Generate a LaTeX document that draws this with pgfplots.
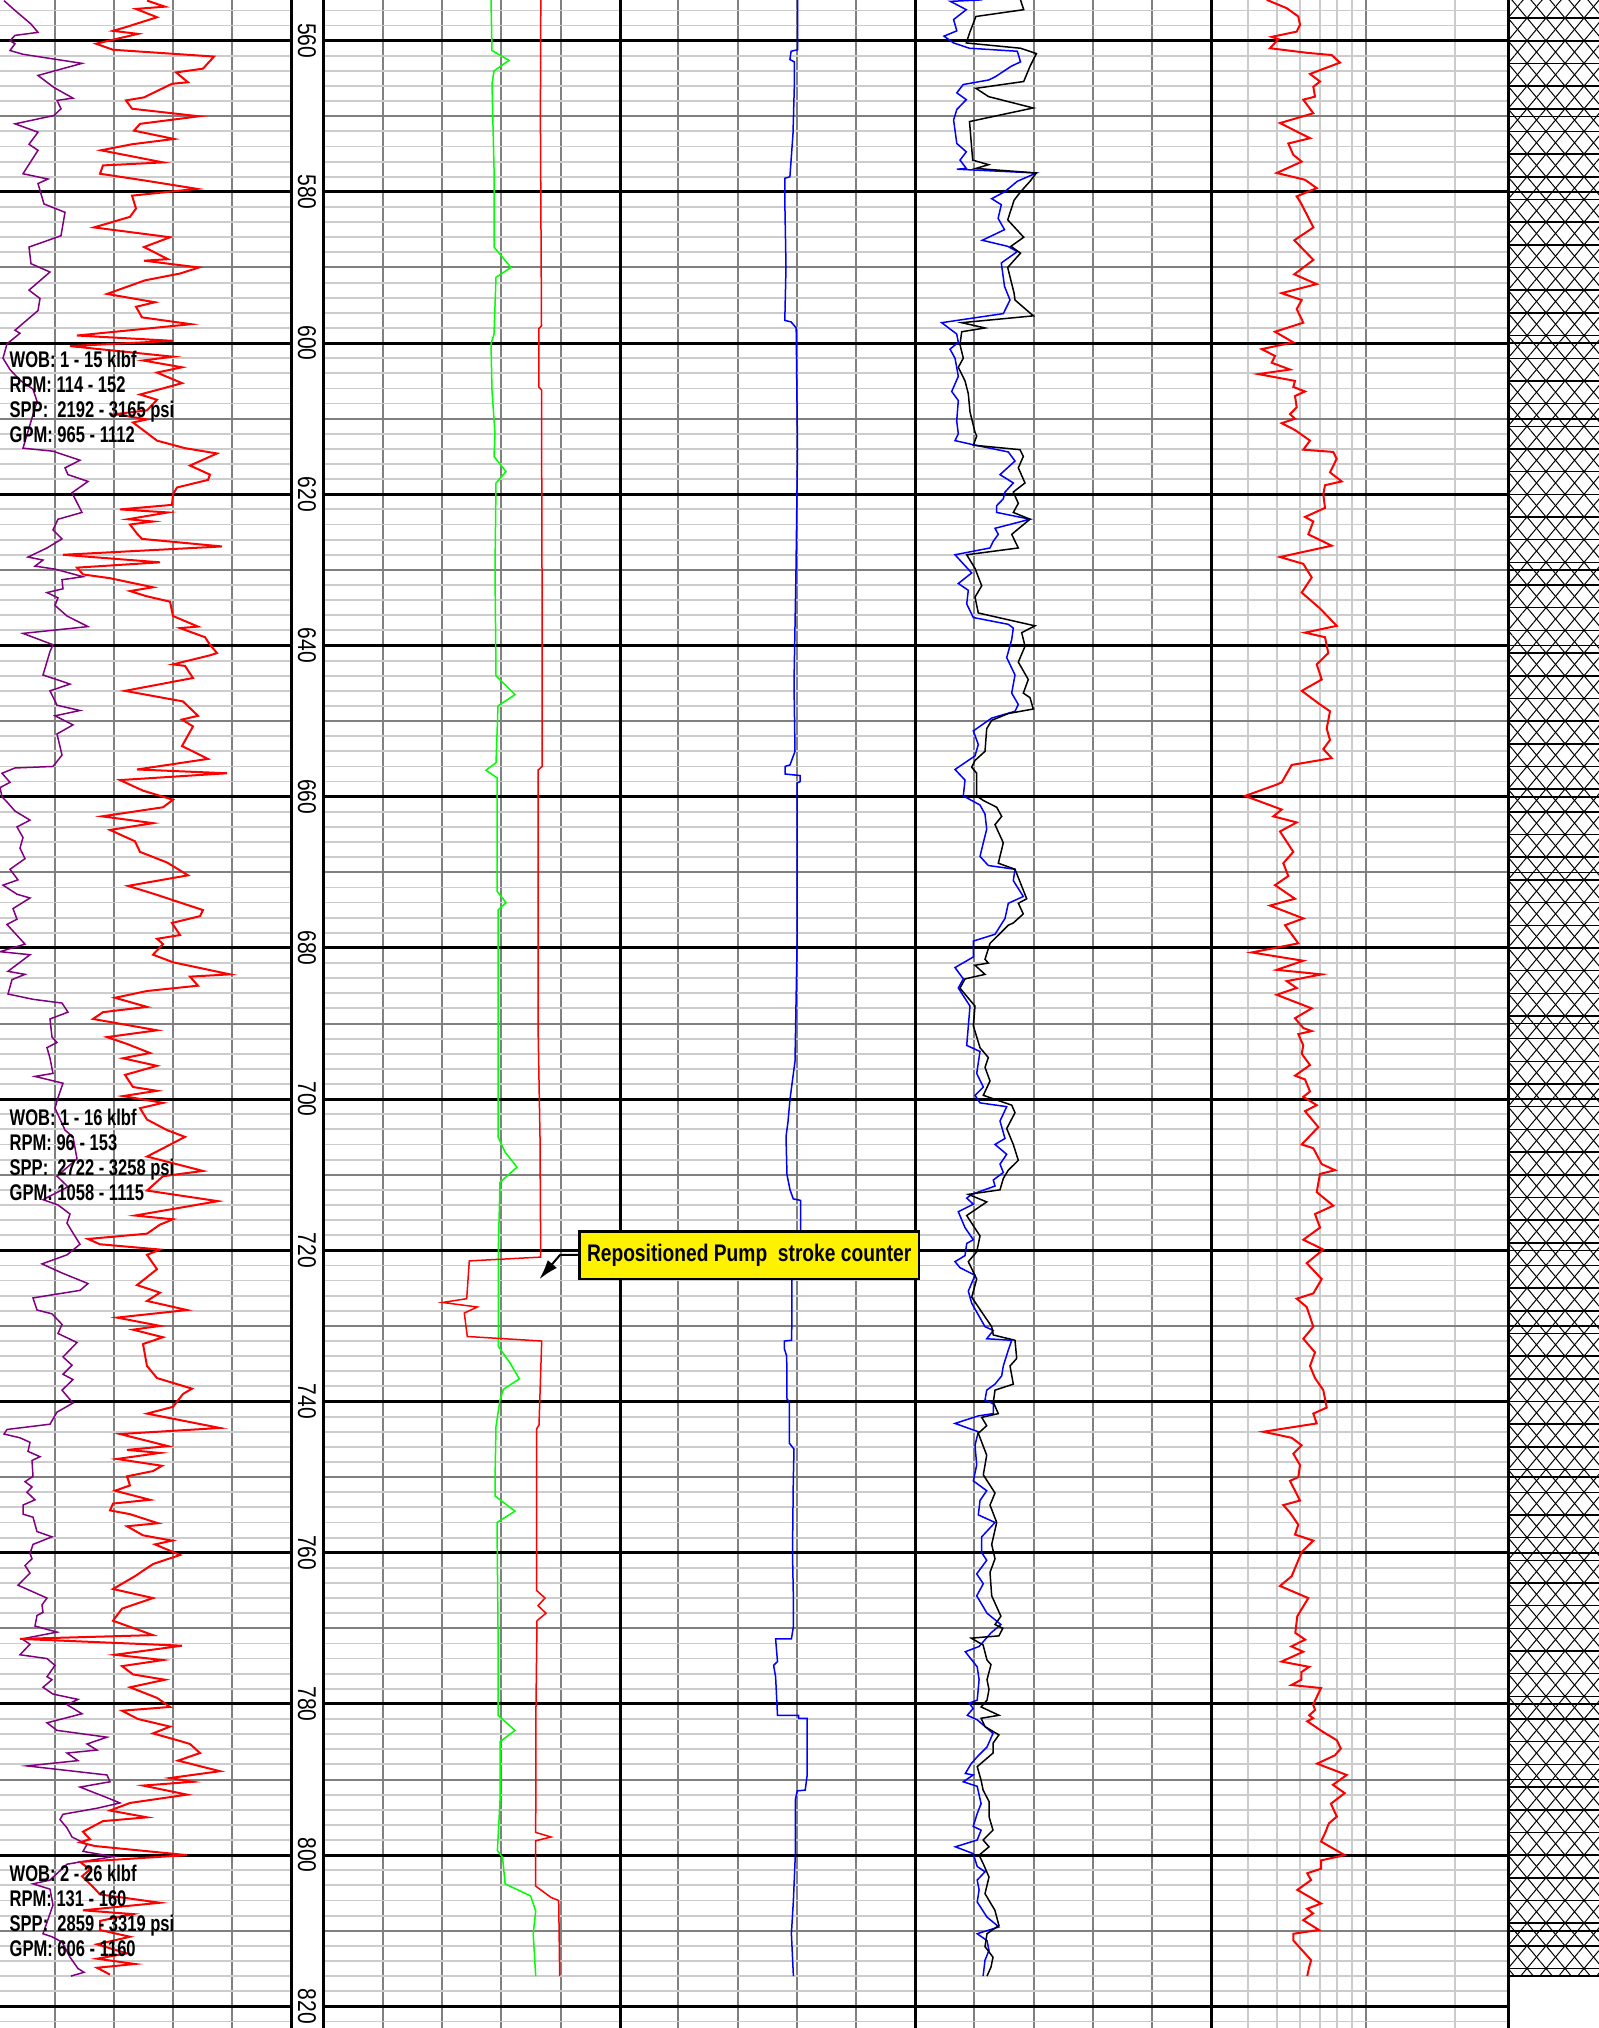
\documentclass[border=0pt]{standalone}
\usepackage{fontspec}
\setmainfont{Liberation Sans}
\newfontfamily\depthfont{Liberation Sans}[FakeStretch=0.82]
\newfontfamily\infofont{Liberation Sans}[FakeStretch=0.73]
\newfontfamily\calloutfont{Liberation Sans}[FakeStretch=0.80]
\usepackage{pgfplots}
\pgfplotsset{compat=1.18}
\usetikzlibrary{arrows.meta,patterns.meta}

\definecolor{gmid}{gray}{0.5}
\definecolor{glight}{gray}{0.8}
\definecolor{wobpurple}{RGB}{128,0,128}

% one track of the log: x in picture pixels, y in depth
\pgfplotsset{
  logtrack/.style={
    scale only axis, anchor=south west, height=608.4pt,
    ymin=554.62, ymax=822.87, y dir=reverse,
    axis line style={draw=none},
    major tick length=0pt, minor tick length=0pt,
    xticklabels={}, yticklabels={},
    extra x tick labels={}, extra y tick labels={},
    ytick={570,590,...,810},
    minor ytick={556,558,...,822},
    extra y ticks={560,580,...,820},
    grid=both,
    major grid style={gmid, line width=0.6pt},
    minor grid style={glight, line width=0.55pt},
    extra x tick style={grid=major, major grid style={black, line width=0.9pt}},
    extra y tick style={grid=major, major grid style={black, line width=0.9pt}},
  },
}

\begin{document}
\begin{tikzpicture}
\path[use as bounding box] (0,0) rectangle (479.7pt,608.4pt);

% ---- track 1: WOB (purple) and RPM (red)
\begin{axis}[logtrack, at={(0pt,0pt)}, width=87.3pt, xmin=0, xmax=291,
  xtick={54.7,114,173,232}, extra x ticks={291}]
\addplot[wobpurple, line width=0.45pt] coordinates {
(4,554.7) (15,556.0) (31,557.8) (38,558.9) (15,559.3) (10,560.0) (15,560.4) (10,561.3) (23,561.8) (82,563.0)
(38,564.6) (54,566.2) (73,567.6) (57,567.9) (61,569.0) (54,569.9) (15,571.0) (38,572.1) (29,573.7) (38,574.5)
(23,577.6) (48,578.3) (38,578.9) (44,581.6) (65,582.7) (61,585.8) (29,587.3) (31,589.5) (50,590.6) (29,593.0)
(40,594.1) (38,595.7) (15,598.3) (20,598.7) (7,600.1) (3,602.0) (10,603.5) (20,604.9) (33,606.1) (37,607.7)
(23,613.9) (53,614.3) (80,615.5) (65,616.5) (68,617.4) (88,618.3) (72,619.8) (82,622.4) (58,623.3) (53,624.7)
(62,625.9) (47,627.1) (28,628.3) (43,628.7) (35,629.5) (55,629.9) (83,630.9) (62,631.3) (63,632.5) (47,633.0)
(58,633.7) (55,634.7) (67,636.1) (88,637.5) (23,638.4) (53,639.9) (50,640.8) (43,643.9) (70,645.1) (50,646.0)
(57,647.9) (80,648.6) (55,649.3) (73,650.5) (57,651.7) (62,654.5) (53,656.0) (15,656.2) (2,656.9) (10,658.1)
(0,658.8) (2,660.0) (7,660.7) (15,661.9) (30,663.1) (17,664.0) (23,665.4) (20,666.8) (25,668.2) (10,669.6)
(18,671.0) (3,671.7) (17,672.9) (30,673.4) (13,674.8) (17,676.2) (7,676.9) (25,679.5) (0,680.5) (30,680.9)
(20,681.9) (8,683.1) (25,683.5) (12,684.2) (8,686.1) (33,686.8) (62,687.3) (68,688.5) (50,689.4) (52,691.8)
(57,692.5) (47,693.2) (50,694.6) (53,696.6) (35,697.0) (63,697.9) (58,699.8) (55,701.2) (65,704.1) (73,705.0)
(77,707.9) (57,710.2) (68,711.6) (43,713.3) (58,714.0) (70,715.2) (67,716.4) (72,717.5) (80,719.2) (67,720.6)
(42,721.8) (62,723.0) (88,724.4) (80,725.3) (33,726.3) (37,727.9) (52,728.4) (62,729.8) (58,731.0) (77,732.2)
(63,734.1) (72,735.2) (63,736.4) (73,737.1) (62,738.5) (73,740.2) (57,741.4) (50,743.0) (7,743.7) (4,744.3)
(20,744.8) (30,745.4) (28,746.6) (40,747.3) (32,747.8) (33,749.9) (25,750.6) (32,751.3) (27,752.0) (35,753.0)
(23,753.7) (23,754.9) (33,755.3) (37,757.2) (52,757.9) (33,758.9) (30,760.1) (32,760.8) (25,761.7) (30,762.7)
(18,764.3) (30,765.0) (47,766.0) (42,766.9) (43,767.9) (37,768.3) (35,769.7) (57,770.5) (22,771.4) (30,772.1)
(20,773.5) (47,774.0) (55,774.9) (47,776.4) (52,776.8) (43,777.8) (53,778.7) (78,779.4) (67,780.1) (82,781.3)
(47,782.5) (57,783.5) (107,784.4) (87,785.3) (97,786.1) (67,786.5) (78,787.5) (27,788.2) (107,789.4) (110,790.3)
(80,791.0) (107,792.4) (120,793.1) (97,793.8) (63,794.6) (60,795.3) (67,796.4) (72,797.6) (87,798.6) (83,799.5)
(113,800.2) (67,801.2) (50,803.3) (33,803.8) (50,804.5) (53,806.6) (43,810.4) (52,810.8) (62,811.5) (70,813.5)
(78,815.0) (84,815.5) (71,816.0)
};
\addplot[red, line width=0.6pt] coordinates {
(147,554.7) (165,555.5) (136,555.8) (157,556.9) (126,558.2) (113,558.7) (138,559.1) (96,560.4) (113,561.2) (214,562.1)
(203,563.7) (176,564.2) (188,565.5) (172,565.7) (144,567.5) (126,567.9) (132,569.0) (199,570.0) (140,571.0) (134,571.9)
(174,573.0) (132,573.7) (101,574.5) (163,576.1) (103,576.5) (100,577.6) (145,578.5) (197,579.6) (132,580.5) (136,582.2)
(130,583.3) (94,584.7) (170,586.0) (144,587.3) (168,588.9) (144,589.1) (199,590.0) (180,590.8) (145,591.7) (107,593.5)
(155,594.6) (136,595.2) (142,596.6) (191,597.5) (77,599.0) (173,599.7) (70,600.4) (173,601.8) (143,602.3) (182,603.2)
(157,603.9) (182,605.3) (160,606.1) (140,606.8) (157,607.5) (147,608.9) (115,609.4) (147,610.1) (133,610.5) (157,612.9)
(185,613.9) (217,614.6) (190,616.2) (210,617.4) (208,618.1) (177,619.1) (173,620.0) (172,621.4) (120,622.0) (168,622.4)
(128,623.3) (153,623.6) (130,624.0) (137,625.2) (142,625.9) (222,626.9) (63,628.0) (160,629.0) (77,629.7) (83,630.6)
(110,631.1) (153,632.3) (130,632.8) (147,633.5) (170,634.2) (173,636.1) (198,637.5) (180,637.7) (205,638.9) (210,639.9)
(217,641.0) (210,641.3) (173,642.5) (185,642.7) (193,644.3) (125,646.0) (183,647.4) (198,649.3) (182,649.8) (193,650.7)
(182,653.3) (208,655.0) (137,656.4) (227,656.9) (120,657.8) (143,659.2) (173,660.4) (163,661.4) (102,662.6) (153,663.5)
(110,664.4) (135,665.9) (140,667.3) (167,668.7) (188,670.4) (128,671.8) (155,672.9) (203,675.0) (200,675.8) (172,676.7)
(180,678.3) (157,678.8) (163,679.5) (153,680.9) (173,681.9) (230,683.5) (190,683.8) (198,685.0) (147,685.7) (115,686.6)
(147,687.8) (103,688.5) (93,689.4) (157,690.9) (107,691.8) (127,692.7) (150,693.9) (123,694.6) (157,695.6) (125,696.8)
(133,698.4) (157,698.9) (123,699.6) (163,700.5) (140,701.2) (147,702.7) (167,704.1) (185,705.0) (147,707.6) (203,709.5)
(163,710.2) (147,712.1) (218,713.5) (135,715.4) (173,715.9) (160,716.6) (147,717.8) (88,718.5) (100,719.2) (160,719.9)
(147,720.6) (157,722.5) (137,724.6) (160,725.6) (147,726.7) (187,727.9) (117,728.9) (160,730.0) (133,730.5) (163,731.5)
(143,732.4) (147,735.3) (157,736.9) (192,738.3) (183,739.0) (173,740.7) (147,741.6) (220,743.5) (120,744.3) (168,745.9)
(127,746.4) (160,746.8) (117,747.6) (162,748.5) (153,749.2) (127,749.9) (130,751.1) (115,751.8) (150,753.0) (113,753.5)
(110,754.4) (130,754.9) (158,756.1) (127,756.5) (143,757.7) (172,758.4) (155,758.9) (180,760.3) (153,761.5) (135,763.1)
(113,764.8) (153,766.0) (122,767.4) (113,769.0) (153,770.9) (20,771.4) (182,772.3) (115,773.5) (163,774.2) (122,775.0)
(133,776.1) (165,776.8) (130,777.8) (157,779.2) (170,780.4) (122,780.9) (138,782.0) (170,783.0) (153,783.9) (180,784.9)
(190,785.3) (200,786.5) (178,787.5) (220,788.9) (170,789.8) (193,790.3) (143,790.8) (187,792.0) (130,793.1) (110,794.1)
(147,795.0) (103,795.5) (83,796.9) (90,797.9) (80,798.3) (95,798.8) (187,800.0) (80,800.9) (90,801.9) (82,802.8)
(93,804.2) (100,805.2) (160,806.3) (83,807.3) (133,807.8) (100,808.7) (100,809.9) (130,810.8) (97,811.8) (127,813.0)
(97,813.7) (135,814.4) (97,814.9) (110,815.8)
};
\node[anchor=north west, align=left, inner sep=0pt, font=\infofont\bfseries\fontsize{6.8}{7.5}\selectfont]
  at (axis cs:9,601.0) {WOB: 1 - 15 klbf\\RPM: 114 - 152\\SPP:\ \ 2192 - 3165 psi\\GPM: 965 - 1112};
\node[anchor=north west, align=left, inner sep=0pt, font=\infofont\bfseries\fontsize{6.8}{7.5}\selectfont]
  at (axis cs:9,701.2) {WOB: 1 - 16 klbf\\RPM: 96 - 153\\SPP:\ \ 2722 - 3258 psi\\GPM: 1058 - 1115};
\node[anchor=north west, align=left, inner sep=0pt, font=\infofont\bfseries\fontsize{6.8}{7.5}\selectfont]
  at (axis cs:9,801.2) {WOB: 2 - 26 klbf\\RPM: 131 - 160\\SPP:\ \ 2859 - 3319 psi\\GPM: 606 - 1160};
\end{axis}

% ---- depth column
\begin{axis}[scale only axis, anchor=south west, at={(87.3pt,0pt)}, width=9.6pt, height=608.4pt,
  xmin=291, xmax=323, ymin=554.62, ymax=822.87, y dir=reverse, hide axis, clip=false]
\pgfplotsinvokeforeach{560,580,...,820}{
  \node[rotate=-90, inner sep=0pt, font=\depthfont\fontsize{7.7}{8}\selectfont] at (axis cs:307,#1) {#1};
}
\end{axis}

% ---- track 2: green and red
\begin{axis}[logtrack, at={(96.9pt,0pt)}, width=89.1pt, xmin=323, xmax=620,
  xtick={382.7,442,500.7,560.5}, extra x ticks={323,620}]
\addplot[green, line width=0.45pt] coordinates {
(491,554.6) (492,561.3) (509,562.6) (494,564.0) (492,565.7) (494,576.8) (494,587.3) (511,590.0) (496,591.3) (494,598.8)
(491,600.1) (492,606.3) (495,612.0) (494,615.0) (506,617.0) (496,618.5) (495,630.0) (496,644.0) (515,646.5) (498,648.0)
(496,655.5) (486,656.5) (497,657.5) (497,672.5) (506,674.0) (498,675.0) (498,690.0) (498,705.0) (505,707.0) (517,709.0)
(500,711.0) (498.3,720.0) (498.3,732.7) (510,734.9) (519.3,737.0) (503.3,738.4) (500,739.8) (496,743.3) (495,750.4) (495,752.5)
(515,754.5) (497,756.0) (498,770.0) (498,781.5) (515,783.5) (500,785.0) (500,792.8) (497.4,799.4) (502.6,800.3) (505.1,803.8)
(530.6,805.4) (535.7,807.4) (533.2,810.4) (535.7,816.0)
};
\addplot[red, line width=0.45pt] coordinates {
(540.8,554.6) (540.4,570.0) (541.5,597.7) (538.8,598.1) (538.8,605.8) (541.5,606.2) (542,630.0) (542,656.0) (538,656.5) (538,690.0)
(540,705.0) (540.7,720.9) (469.3,721.4) (466.7,726.4) (442.7,726.9) (477.3,727.5) (464.3,728.3) (467.3,731.4) (541.7,732.0) (539,743.1)
(536.7,743.6) (536.7,765.0) (545,766.0) (538,767.0) (546,768.0) (537,769.0) (536,780.0) (535.7,797.0) (551,797.6) (535.7,798.1)
(535.7,804.1) (551,805.6) (558.7,806.0) (559.7,816.0)
};
\end{axis}

% ---- track 3: blue
\begin{axis}[logtrack, at={(186pt,0pt)}, width=88.5pt, xmin=620, xmax=915,
  xtick={678,737.7,796.7,856}, extra x ticks={620,915}]
\addplot[blue, line width=0.45pt] coordinates {
(797.5,554.6) (797.5,561.2) (791.1,561.4) (789.9,562.5) (794.3,562.8) (794.3,566.1) (793,572.3) (789.9,578.0) (784.8,578.2) (784.8,581.1)
(786,589.9) (784.8,597.0) (791.1,597.2) (796.2,598.0) (797.5,614.1) (796,630.0) (794,645.0) (795,654.0) (790,655.8) (785,656.0)
(785,657.0) (800,657.2) (800,658.0) (797,658.2) (797,680.0) (795,695.0) (790,700.0) (788,703.0) (786,705.0) (787,710.0)
(790,712.0) (793.3,713.2) (800.7,713.4) (800.7,721.0) (792,722.0) (791.7,731.9) (784.3,732.0) (784.3,733.0) (786.7,734.0) (787,739.7)
(789.3,740.0) (789.3,745.5) (794,746.3) (793.3,750.4) (792.5,760.0) (793.4,766.2) (793.4,769.8) (791.4,771.4) (775.6,771.4) (777.5,774.4)
(773.6,774.9) (775.6,776.4) (777.5,781.5) (798.5,781.5) (798.5,781.9) (807.2,781.9) (807.2,789.4) (805.2,791.4) (797.3,791.5) (795.3,792.7)
(795.3,800.0) (793.4,806.0) (791.4,810.4) (793.4,816.0)
};
\coordinate (callout) at (axis cs:749.15,720.67);
\coordinate (arrA) at (axis cs:579.3,720.62);
\coordinate (arrB) at (axis cs:560,720.62);
\coordinate (arrT) at (axis cs:539.3,723.84);
\end{axis}

% ---- track 4: blue and black
\begin{axis}[logtrack, at={(274.5pt,0pt)}, width=88.8pt, xmin=915, xmax=1211,
  xtick={974.4,1033.7,1093,1152.3}, extra x ticks={915,1211}]
\addplot[blue, line width=0.45pt] coordinates {
(982.3,554.6) (950.4,554.8) (966.3,555.9) (953.6,557.2) (956.8,558.7) (944,559.4) (953.6,560.3) (969.5,561.0) (1017.3,561.4) (1020.5,562.8)
(1011,563.4) (995,564.8) (988.6,565.2) (963.2,565.8) (956.8,566.9) (966.3,567.8) (956.8,569.1) (953.6,570.5) (956.8,573.6) (966.3,574.7)
(960,575.8) (966.3,576.9) (956.8,577.0) (1036.4,577.5) (1017.3,578.6) (1004.5,580.0) (991.7,580.9) (1001.3,581.7) (998.1,583.5) (1004.5,585.0)
(982.3,586.4) (1007.7,587.2) (1017.3,587.9) (1001.3,589.4) (1004.5,592.5) (1010,594.3) (1003.3,596.1) (941.7,597.3) (956.7,598.8) (958.3,599.9)
(950,600.8) (955,602.0) (956.7,603.2) (958.3,604.4) (951.7,606.4) (958.3,607.6) (956.7,610.3) (958.3,612.0) (955,612.9) (975,613.5)
(1008.3,614.4) (1015,615.6) (1010,616.2) (1000,617.4) (1013.3,618.5) (1005,619.7) (1003.3,620.6) (996.7,621.5) (996.7,622.4) (1030,623.3)
(995,624.5) (998.3,625.3) (993.3,626.2) (990,627.1) (955,628.0) (963.3,629.2) (971.7,630.4) (958.3,631.8) (968.3,632.7) (966.7,634.5)
(973.3,636.3) (1008.3,637.2) (1013.3,637.7) (1011.7,639.2) (1006.7,641.6) (1015,643.9) (1011.7,646.3) (1018.3,647.8) (1015,648.7) (991.7,649.6)
(973.3,651.3) (978.3,653.1) (975,654.6) (955,656.4) (965,657.8) (963.3,659.9) (980,661.1) (985,662.3) (986.7,664.3) (983.3,666.1)
(980,667.9) (988.3,669.1) (1015,669.6) (1013.3,671.1) (1023.3,673.2) (1008.3,674.1) (1005,676.1) (995,678.2) (973.3,679.1) (973.3,681.2)
(955,682.6) (963.3,684.1) (958.3,685.3) (970,687.7) (966.7,692.9) (980,693.7) (976.7,696.6) (983.3,698.4) (975,699.5) (980,700.5)
(1006.7,701.0) (1000,702.9) (1005,705.2) (995,706.0) (1006.7,707.3) (1000,708.6) (1003.3,709.7) (993.3,710.7) (995,711.5) (971.7,712.6)
(966.7,713.1) (973.3,713.9) (958.3,714.9) (965,717.0) (973.3,718.6) (966.7,719.1) (965,720.7) (955,721.5) (960,722.3) (975,723.3)
(968.3,725.4) (971.7,727.0) (985,730.1) (993.3,730.6) (986.7,731.7) (1011.7,731.9) (1008.3,733.2) (1003.3,735.3) (1001.7,736.6) (995,737.7)
(986.7,738.5) (985,739.8) (993.3,740.3) (993.3,741.6) (978.3,741.9) (955,742.9) (978.3,744.0) (975,745.8) (976.7,748.4) (973.3,750.5)
(986.7,751.8) (980,753.1) (978.3,755.0) (995,756.0) (981.7,757.9) (981.7,760.0) (986.7,761.0) (976.7,762.8) (983.3,764.1) (976.7,765.7)
(987,768.0) (1000.9,769.5) (991,770.6) (979.1,772.4) (965.3,773.1) (977.2,775.1) (979.1,776.8) (977.2,779.5) (969.2,779.9) (973.2,780.6)
(967.3,781.5) (977.2,782.1) (993,783.9) (987,785.7) (977.2,787.0) (971.2,787.9) (965.3,789.2) (973.2,789.4) (963.3,790.3) (977.2,790.9)
(981.1,793.2) (977.2,794.5) (973.2,796.2) (981.1,796.7) (977.2,798.0) (955.4,798.9) (973.2,799.8) (977.2,801.5) (985,802.2) (977.2,803.3)
(979.1,804.6) (977.2,806.2) (987,808.2) (998.9,809.5) (977.2,810.4) (987,811.3) (989,812.6) (985,813.9) (983.1,816.0)
};
\addplot[black, line width=0.45pt] coordinates {
(1020.5,554.6) (1023.7,555.9) (975.9,556.8) (969.5,559.0) (966.3,560.3) (1020.5,561.0) (1036.4,561.7) (1030,563.4) (1023.7,565.4) (975.9,566.3)
(988.6,567.4) (1033.2,568.9) (969.5,570.7) (972.7,575.8) (988.6,576.4) (975.9,576.9) (1036.4,577.5) (1030,578.6) (1020.5,580.0) (1014.1,581.1)
(1007.7,583.7) (1023.7,586.0) (1010.9,587.2) (1020.5,588.1) (1007.7,590.0) (1014.1,593.4) (1015,594.3) (1033.3,596.4) (961.7,597.3) (985,598.0)
(961.7,598.5) (960,600.2) (963.3,602.0) (958.3,603.2) (965,605.0) (968.3,606.7) (970,609.1) (975,611.8) (976.7,612.3) (973.3,613.5)
(1020,614.1) (1023.3,615.0) (1018.3,616.5) (1025,618.5) (1013.3,619.7) (1018.3,621.2) (1013.3,622.4) (1030,623.3) (1021.7,624.2) (1011.7,625.3)
(1018.3,627.1) (966.7,628.0) (975,629.8) (981.7,632.1) (975,633.6) (978.3,635.7) (1035,637.4) (1021.7,638.3) (1025,640.1) (1018.3,642.2)
(1028.3,644.5) (1023.3,646.3) (1030,646.9) (1033.3,648.4) (1008.3,649.0) (991.7,649.9) (986.7,651.0) (985,654.0) (975,655.2) (971.7,656.1)
(976.7,656.9) (976.7,659.9) (983.3,660.5) (996.7,661.4) (1001.7,662.6) (995,663.7) (1003.3,666.1) (998.3,668.8) (1015,669.6) (1026.7,673.5)
(1018.3,674.1) (1023.3,675.5) (1013.3,676.7) (1008.3,677.0) (990,679.4) (985,681.5) (988.3,682.0) (975,682.3) (985,683.5) (965,684.1)
(960,685.3) (961.7,685.6) (975,687.7) (973.3,690.3) (980,693.2) (988.3,694.5) (985,695.8) (990,697.6) (983.3,699.5) (1011.7,700.8)
(1015,701.8) (1006.7,703.9) (1013.3,706.0) (1018.3,708.1) (1008.3,709.4) (1003.3,710.5) (1000,712.0) (968.3,712.6) (986.7,713.6) (966.7,715.4)
(980,718.1) (976.7,720.2) (968.3,721.5) (976.7,723.8) (971.7,726.2) (985,728.8) (991.7,730.1) (993.3,731.2) (1015,731.9) (1016.7,734.3)
(1010,735.3) (1013.3,737.7) (995,738.5) (993.3,740.1) (998.3,741.6) (981.7,742.1) (986.7,743.2) (978.3,744.2) (986.7,747.1) (983.3,749.7)
(995,752.1) (990,753.7) (996.7,756.0) (991.7,758.9) (995,760.8) (990,762.6) (991.7,765.7) (1000.9,768.4) (995,769.5) (1002.8,770.0)
(998.9,771.0) (971.2,771.3) (983.1,772.2) (987,774.2) (991,774.8) (987,776.8) (989,778.1) (987,779.5) (981.1,780.4) (998.9,781.5)
(981.1,781.9) (985,783.0) (998.9,784.1) (993,785.2) (993,786.5) (977.2,788.3) (981.1,790.1) (983.1,791.4) (989,792.9) (989,794.9)
(993,796.7) (983.1,798.0) (989,798.9) (979.1,800.0) (983.1,801.1) (989,802.9) (985,805.1) (994.9,807.3) (998.9,809.3) (987,810.4)
(985,812.1) (993,813.5) (991,814.8) (987,816.0)
};
\end{axis}

% ---- track 5: red on a log grid (3 to 30)
\begin{axis}[logtrack, at={(363.3pt,0pt)}, width=89.1pt, xmin=1211, xmax=1508,
  xtick={1365.8}, minor xtick={1248,1276.7,1300.1,1319.9,1337.1,1352.2,1454.9},
  extra x ticks={1211,1508}]
\addplot[red, line width=0.6pt] coordinates {
(1266.7,554.6) (1286.7,555.7) (1298.3,556.8) (1300,557.9) (1296.7,558.8) (1271.7,559.5) (1278.3,559.8) (1270,561.0) (1306.7,561.6) (1331.7,561.9)
(1340,562.9) (1310,564.4) (1320,565.4) (1313.3,566.1) (1315,567.4) (1303.3,567.8) (1313.3,569.6) (1280,570.9) (1310,572.9) (1288.3,573.6)
(1293.3,575.1) (1301.7,576.0) (1276.7,577.5) (1305,578.4) (1316.7,579.5) (1296.7,580.6) (1300.6,581.4) (1313.4,584.7) (1294.3,586.4) (1313.4,589.0)
(1294.3,590.9) (1316.6,592.2) (1281.5,593.4) (1301.7,594.3) (1296.7,595.5) (1303.3,597.3) (1275,598.5) (1293.3,599.9) (1261.7,600.8) (1275,601.7)
(1271.7,602.6) (1290,603.5) (1258.3,604.1) (1295,605.0) (1293.3,605.8) (1305,606.4) (1295,607.0) (1296.7,608.5) (1290,609.4) (1295,610.0)
(1281.7,610.6) (1295,611.5) (1310,612.9) (1303.3,614.1) (1333.3,614.4) (1336.7,615.3) (1330,617.1) (1341.7,618.3) (1325,618.8) (1323.3,620.0)
(1325,621.8) (1305,623.0) (1313.3,623.6) (1308.3,625.3) (1331.7,626.8) (1280,628.3) (1303.3,629.2) (1311.7,631.0) (1301.7,633.0) (1320,635.1)
(1336.7,637.4) (1305,638.3) (1325,638.9) (1328.3,641.0) (1316.7,642.5) (1321.7,644.5) (1301.7,646.0) (1320,647.8) (1330,648.7) (1326.7,651.0)
(1330,652.5) (1323.3,653.7) (1331.7,654.9) (1291.7,655.8) (1281.7,658.1) (1276.7,658.4) (1245,659.9) (1281.7,661.7) (1273.3,662.6) (1296.7,663.4)
(1280,664.6) (1293.3,667.3) (1283.3,668.8) (1288.3,670.5) (1275,671.7) (1295,673.5) (1270,674.4) (1303.3,676.1) (1285,677.0) (1298.3,679.4)
(1251.7,680.6) (1303.3,681.7) (1276.7,682.9) (1321.7,683.5) (1286.7,684.4) (1296.7,685.3) (1276.7,686.2) (1311.7,688.0) (1295,689.3) (1303.3,690.6)
(1311.7,691.0) (1298.3,691.4) (1303.3,692.9) (1301.7,694.0) (1310,695.5) (1295,696.9) (1305,697.4) (1310,699.0) (1303.3,699.7) (1316.7,700.8)
(1305,701.6) (1318.3,703.7) (1301.7,706.0) (1313.3,706.5) (1321.7,708.6) (1335,709.4) (1320,709.9) (1316.7,712.3) (1333.3,714.1) (1315,715.2)
(1320,717.0) (1303.3,718.6) (1323.3,719.9) (1306.7,721.7) (1321.7,723.8) (1313.3,725.7) (1296.7,726.4) (1306.7,727.5) (1313.3,730.1) (1303.3,731.7)
(1315,733.5) (1310,735.3) (1315,736.9) (1323.3,738.5) (1326.7,740.8) (1313.3,741.6) (1316.7,742.9) (1263.3,744.0) (1291.7,744.8) (1301.7,745.8)
(1293.3,746.9) (1300,748.4) (1298.3,750.0) (1290,750.5) (1300,753.1) (1283.3,753.7) (1290,754.7) (1298.3,756.3) (1295,757.6) (1313.3,758.4)
(1301.7,759.9) (1296.7,761.5) (1291.7,763.1) (1280,764.4) (1308.3,766.0) (1297.3,768.4) (1295.3,770.6) (1305.2,771.5) (1291.4,772.4) (1303.2,773.1)
(1281.5,774.4) (1309.2,775.1) (1301.3,775.8) (1301.3,776.8) (1291.4,777.5) (1321,777.9) (1313.1,780.1) (1315.1,780.8) (1309.2,781.5) (1313.1,781.9)
(1307.2,782.3) (1323,783.7) (1336.8,784.8) (1340.8,785.9) (1334.9,786.8) (1317.1,787.9) (1346.7,789.4) (1332.9,790.7) (1344.7,791.8) (1330.9,793.2)
(1336.8,794.9) (1328.9,795.8) (1325,797.1) (1321,798.2) (1344.7,800.0) (1321,800.7) (1321,801.8) (1307.2,802.4) (1311.1,803.3) (1297.3,804.6)
(1321,806.4) (1307.2,807.1) (1313.1,807.7) (1303.2,808.6) (1319,809.9) (1293.4,810.4) (1293.4,811.3) (1311.1,813.9) (1309.2,814.8) (1307.2,816.0)
};
\end{axis}

% ---- track 6: lithology hatch
\begin{axis}[scale only axis, anchor=south west, at={(452.4pt,15.58pt)}, width=27.3pt, height=592.8pt,
  xmin=1508, xmax=1599, ymin=554.62, ymax=816, y dir=reverse,
  axis line style={draw=none}, major tick length=0pt, xtick=\empty,
  ytick={557,560,...,815}, yticklabels={},
  extra y ticks={560,570,...,810,816}, extra y tick labels={},
  ymajorgrids, major grid style={black, line width=0.45pt},
  extra y tick style={grid=major, major grid style={black, line width=0.5pt}}]
\addplot[draw=none, pattern={Lines[angle=-50.04, distance=4.37pt, xshift=452.4pt, yshift=596.19pt, line width=0.3pt]}]
  coordinates {(1508,554.62) (1599,554.62) (1599,816) (1508,816) (1508,554.62)};
\addplot[draw=none, pattern={Lines[angle=50.04, distance=4.37pt, xshift=452.4pt, yshift=596.19pt, line width=0.3pt]}]
  coordinates {(1508,554.62) (1599,554.62) (1599,816) (1508,816) (1508,554.62)};
\end{axis}

% ---- callout
\draw[black, line width=0.6pt, -{Latex[length=6pt, width=3.6pt]}] (arrA) -- (arrB) -- (arrT);
\node[draw=black, line width=0.8pt, fill=yellow, minimum width=101.9pt, minimum height=14.2pt, inner sep=0pt,
  font=\calloutfont\bfseries\fontsize{7.2}{8}\selectfont] at (callout) {Repositioned Pump\ \ stroke counter};
\end{tikzpicture}
\end{document}
